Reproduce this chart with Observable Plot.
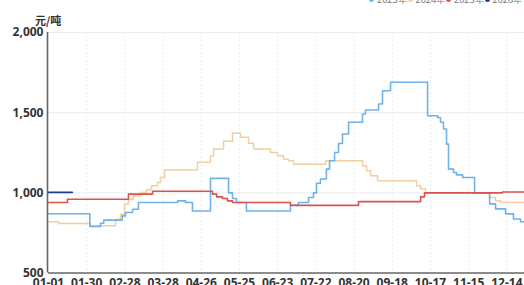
<!DOCTYPE html>
<html><head><meta charset="utf-8">
<script src="https://cdn.jsdelivr.net/npm/d3@7"></script>
<script src="https://cdn.jsdelivr.net/npm/@observablehq/plot@0.6"></script>
<style>
html,body{margin:0;padding:0;background:#fff;overflow:hidden;width:524px;height:285px;}
#wrap{position:relative;width:524px;height:285px;overflow:hidden;}
#legend{position:absolute;top:-6px;left:369px;display:flex;font:9px "Noto Sans",sans-serif;color:#777;line-height:11px;white-space:nowrap;}
.item{display:flex;align-items:center;width:38.5px;}
.dot{width:5px;height:5px;border-radius:50%;margin-right:3px;flex:none;}
#ytitle{position:absolute;left:35px;top:12px;font:bold 11px "Noto Sans CJK SC",sans-serif;color:#333;}
#chart{position:absolute;left:0;top:0;}
</style></head><body><div id="wrap"><div id="chart"></div><div id="legend"></div><div id="ytitle">元/吨</div></div>
<script>
const seriesNames = ["2023年", "2024年", "2025年", "2026年"];
const seriesColors = ["#6db3ea", "#f1cf9f", "#d9534f", "#1f3a93"];
const xTickDays = [0, 29, 58, 87, 116, 145, 174, 203, 232, 261, 290, 319, 348];
const xTickLabels = ["01-01", "01-30", "02-28", "03-28", "04-26", "05-25", "06-23", "07-22", "08-20", "09-18", "10-17", "11-15", "12-14"];
const yTicks = [500, 1000, 1500, 2000];

const days2023 = [0, 31.4, 39.5, 42, 56, 58.5, 63.8, 68.3, 98, 104, 109.3, 123, 136.7, 139.7, 142.7, 150.3, 183.7, 189.8, 197.4, 201.2, 203.5, 206.5, 211, 213.4, 217.2, 220.2, 223.2, 227.8, 238.4, 240.7, 250.6, 253.6, 259.7, 287.8, 295.4, 297.6, 299.9, 302.2, 303.7, 307.5, 309.8, 314.4, 323.5, 334.9, 339.4, 347, 353, 358.4, 365];
const vals2023 = [870, 790, 810, 830, 856, 877, 898, 940, 950, 940, 887, 1090, 1000, 965, 940, 887, 923, 940, 971, 1000, 1060, 1086, 1148, 1200, 1252, 1308, 1367, 1440, 1492, 1517, 1554, 1637, 1690, 1481, 1470, 1440, 1398, 1304, 1148, 1127, 1112, 1096, 1000, 931, 900, 869, 837, 820, 820];

const days2024 = [0, 7.6, 31.9, 50.9, 54.7, 57.7, 60.7, 64.5, 69.9, 74.4, 78.2, 82.8, 85, 88.1, 113.1, 123, 125.3, 132.9, 139.7, 145.8, 151.9, 155.7, 168.6, 173.9, 178.4, 182.2, 186, 210.3, 238.4, 241.5, 244.5, 249.8, 279.4, 282.5, 286.3, 334.9, 339.4, 343.2, 365];
const vals2024 = [820, 808, 794, 836, 867, 930, 960, 981, 1002, 1020, 1044, 1065, 1096, 1142, 1190, 1230, 1273, 1321, 1371, 1346, 1310, 1273, 1252, 1231, 1210, 1200, 1179, 1200, 1169, 1137, 1106, 1075, 1044, 1025, 1000, 971, 950, 940, 940];

const days2025 = [0, 14.4, 60.7, 79, 124.5, 127.6, 132.1, 135.9, 139.7, 183.7, 235.4, 282.5, 285.5, 344.7, 365];
const vals2025 = [940, 960, 992, 1010, 992, 975, 965, 950, 940, 922, 945, 975, 1000, 1005, 1005];

const days2026 = [0, 18];
const vals2026 = [1003, 1003];

const seriesDays = [days2023, days2024, days2025, days2026];
const seriesVals = [vals2023, vals2024, vals2025, vals2026];
const rows = seriesNames.map((name, s) => seriesDays[s].map((d, i) => ({series: name, day: d, value: seriesVals[s][i]})));

const lineMark = (s, w) => Plot.line(rows[s], {x: "day", y: "value", curve: "step-after", stroke: seriesColors[s], strokeWidth: w, clip: true});

const chart = Plot.plot({
  width: 524, height: 285,
  marginLeft: 48, marginRight: 0, marginTop: 32, marginBottom: 12.5,
  style: {fontFamily: "'Noto Sans', sans-serif", background: "transparent"},
  x: {domain: [0, 361.4], label: null},
  y: {domain: [500, 2000], label: null},
  marks: [
    Plot.gridY([1000, 1500, 2000], {stroke: "#ececec", strokeOpacity: 1}),
    Plot.gridX(xTickDays.slice(1), {stroke: "#ececec", strokeOpacity: 1, strokeDasharray: "2,2"}),
    lineMark(1, 1.5),
    lineMark(0, 1.6),
    lineMark(2, 1.6),
    lineMark(3, 1.8),
    Plot.ruleX([0], {y1: 500, y2: 2000, stroke: "#666", strokeWidth: 1.6, dx: -1}),
    Plot.ruleY([500], {stroke: "#666", strokeWidth: 1.6}),
    Plot.axisY(yTicks, {tickSize: 0, tickPadding: 5, tickFormat: d3.format(","), fontSize: 12, fontWeight: "bold", fill: "#333", label: null}),
    Plot.axisX(xTickDays, {tickSize: 0, tickPadding: 5, tickFormat: d => xTickLabels[xTickDays.indexOf(d)], fontSize: 12, fontWeight: "bold", fill: "#333", label: null})
  ]
});
document.getElementById("chart").appendChild(chart);

const legend = document.getElementById("legend");
seriesNames.forEach((n, i) => {
  const it = document.createElement("div"); it.className = "item";
  const dot = document.createElement("span"); dot.className = "dot"; dot.style.background = seriesColors[i];
  const t = document.createElement("span"); t.textContent = n;
  it.appendChild(dot); it.appendChild(t); legend.appendChild(it);
});
</script></body></html>
